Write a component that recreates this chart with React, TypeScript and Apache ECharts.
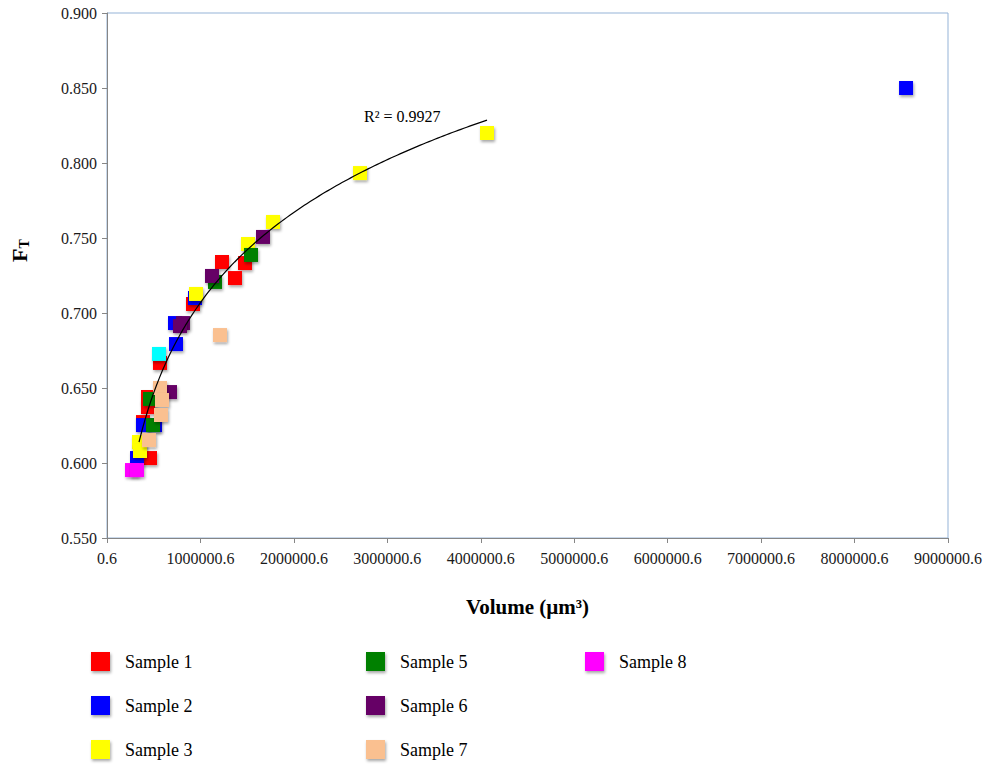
import React, { useEffect, useRef } from "react";
import * as echarts from "echarts";

// ---- Data (Volume in µm³, F_T) ----
const sample1Volume = [1230700, 1476900, 1369900, 920400, 567200, 438800, 438800, 385300, 460200];
const sample1FT = [0.734, 0.7333, 0.7233, 0.706, 0.6667, 0.644, 0.6373, 0.6273, 0.6033];

const sample2Volume = [8550900, 941800, 727700, 738400, 385300, 513700, 321100];
const sample2FT = [0.85, 0.71, 0.6933, 0.6793, 0.6253, 0.6253, 0.6033];

const sample3Volume = [4066800, 2707600, 1776500, 1509000, 952500, 342500, 353200];
const sample3FT = [0.82, 0.7933, 0.7607, 0.746, 0.7127, 0.614, 0.608];

const sample4Volume = [556500];
const sample4FT = [0.6727];

const sample5Volume = [1541100, 1155800, 460200, 492300];
const sample5FT = [0.7387, 0.7207, 0.6427, 0.6253];

const sample6Volume = [1669500, 1123700, 813400, 781200, 674200];
const sample6FT = [0.7507, 0.7247, 0.6933, 0.6913, 0.6473];

const sample7Volume = [1209300, 567200, 588600, 577900, 449500];
const sample7FT = [0.6853, 0.65, 0.642, 0.632, 0.6153];

const sample8Volume = [267600, 321100];
const sample8FT = [0.5953, 0.5953];

const sampleNames = ["Sample 1", "Sample 2", "Sample 3", "Sample 4", "Sample 5", "Sample 6", "Sample 7", "Sample 8"];
const sampleColors = ["#FF0000", "#0000FF", "#FFFF00", "#00FFFF", "#008000", "#660066", "#FAC090", "#FF00FF"];
const sampleVolumes = [sample1Volume, sample2Volume, sample3Volume, sample4Volume, sample5Volume, sample6Volume, sample7Volume, sample8Volume];
const sampleFT = [sample1FT, sample2FT, sample3FT, sample4FT, sample5FT, sample6FT, sample7FT, sample8FT];

const legendColumns = [
  ["Sample 1", "Sample 2", "Sample 3"],
  ["Sample 5", "Sample 6", "Sample 7"],
  ["Sample 8"],
];

const rSquaredLabel = "R² = 0.9927";
const X_OFFSET = 0.6;
const SERIF = "Liberation Serif";

// logarithmic least-squares fit on Sample 3 (the trendline series)
function logFit(xs: number[], ys: number[]) {
  const lx = xs.map((v) => Math.log(v));
  const n = xs.length;
  const mx = lx.reduce((a, b) => a + b, 0) / n;
  const my = ys.reduce((a, b) => a + b, 0) / n;
  let sxy = 0;
  let sxx = 0;
  for (let i = 0; i < n; i++) {
    sxy += (lx[i] - mx) * (ys[i] - my);
    sxx += (lx[i] - mx) * (lx[i] - mx);
  }
  const a = sxy / sxx;
  return { a, b: my - a * mx };
}

export default function App() {
  const ref = useRef<HTMLDivElement>(null);

  useEffect(() => {
    if (!ref.current) return;
    const chart = echarts.init(ref.current, undefined, { renderer: "svg" });

    const fit = logFit(sample3Volume, sample3FT);
    const xmin = Math.min(...sample3Volume);
    const xmax = Math.max(...sample3Volume);
    const trend: number[][] = [];
    const steps = 120;
    for (let i = 0; i <= steps; i++) {
      const x = xmin + ((xmax - xmin) * i) / steps;
      trend.push([x, fit.a * Math.log(x) + fit.b]);
    }

    const shadow = {
      shadowColor: "rgba(0,0,0,0.35)",
      shadowBlur: 3,
      shadowOffsetX: 1,
      shadowOffsetY: 2,
    };

    const scatterSeries = sampleNames.map((name, i) => ({
      name,
      type: "scatter",
      symbol: "rect",
      symbolSize: 14,
      z: 2,
      itemStyle: { color: sampleColors[i], opacity: 1, ...shadow },
      data: sampleVolumes[i].map((v, j) => [v, sampleFT[i][j]]),
    }));

    const legendLefts = [91, 366, 585];
    const legends = legendColumns.map((col, i) => ({
      data: col,
      orient: "vertical",
      left: legendLefts[i],
      top: 652,
      padding: 0,
      icon: "rect",
      itemWidth: 19,
      itemHeight: 19,
      itemGap: 25,
      itemStyle: { opacity: 1, ...shadow },
      textStyle: {
        fontFamily: SERIF,
        fontSize: 18,
        color: "#000",
        lineHeight: 19,
        padding: [0, 0, 0, 10],
      },
      selectedMode: false,
    }));

    const tickRich = {
      t: { fontFamily: SERIF, fontSize: 16, color: "#1a1a1a" },
    };

    chart.setOption({
      animation: false,
      backgroundColor: "#fff",
      textStyle: { fontFamily: SERIF },
      grid: {
        left: 107,
        right: 45,
        top: 13,
        bottom: 227,
        show: true,
        borderColor: "#95B3D7",
        borderWidth: 1,
      },
      xAxis: {
        type: "value",
        min: 0,
        max: 9000000,
        interval: 1000000,
        name: "Volume (µm³)",
        nameLocation: "middle",
        nameGap: 58,
        nameTextStyle: { fontFamily: SERIF, fontSize: 21, fontWeight: "bold", color: "#000" },
        axisLine: { show: true, lineStyle: { color: "#868686" } },
        axisTick: { show: true, length: 5, lineStyle: { color: "#868686" } },
        splitLine: { show: false },
        axisLabel: {
          fontFamily: SERIF,
          fontSize: 16,
          color: "#1a1a1a",
          margin: 12,
          rich: tickRich,
          formatter: (v: number) => "{t|" + (v + X_OFFSET).toFixed(1) + "}",
        },
      },
      yAxis: {
        type: "value",
        min: 0.55,
        max: 0.9,
        interval: 0.05,
        axisLine: { show: true, lineStyle: { color: "#868686" } },
        axisTick: { show: true, length: 5, lineStyle: { color: "#868686" } },
        splitLine: { show: false },
        axisLabel: {
          fontFamily: SERIF,
          fontSize: 16,
          color: "#1a1a1a",
          margin: 10,
          rich: tickRich,
          formatter: (v: number) => "{t|" + v.toFixed(3) + "}",
        },
      },
      legend: legends,
      graphic: [
        {
          type: "text",
          left: 364,
          top: 108,
          style: {
            text: rSquaredLabel,
            font: "16px 'Liberation Serif'",
            fill: "#000",
          },
        },
        {
          type: "text",
          x: 8,
          y: 262,
          rotation: Math.PI / 2,
          style: {
            text: "{a|F}{b|T}",
            rich: {
              a: { fontFamily: SERIF, fontSize: 22, fontWeight: "bold", fill: "#000", color: "#000" },
              b: {
                fontFamily: SERIF,
                fontSize: 14,
                fontWeight: "bold",
                fill: "#000",
                color: "#000",
                padding: [9, 0, 0, 0],
              },
            },
          },
        },
      ],
      series: [
        ...scatterSeries,
        {
          name: "trend",
          type: "line",
          data: trend,
          showSymbol: false,
          symbol: "none",
          smooth: false,
          z: 5,
          lineStyle: { color: "#000", width: 1.2 },
          silent: true,
        },
      ],
    });

    return () => chart.dispose();
  }, []);

  return (
    <div
      ref={ref}
      style={{ position: "fixed", left: 0, top: 0, width: 993, height: 765, background: "#fff" }}
    />
  );
}
